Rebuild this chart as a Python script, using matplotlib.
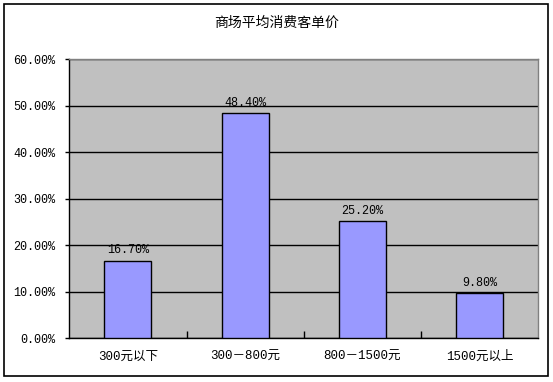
import matplotlib.pyplot as plt
from matplotlib.patches import Rectangle
from matplotlib.ticker import FixedLocator

plt.rcParams['font.family'] = ['Liberation Mono', 'Noto Sans CJK SC', 'DejaVu Sans']

# 数据
categories = ["300元以下", "300－800元", "800－1500元", "1500元以上"]
values = [16.70, 48.40, 25.20, 9.80]
y_ticks = [0, 10, 20, 30, 40, 50, 60]

fig = plt.figure(figsize=(5.53, 3.82), dpi=100)
fig.patch.set_facecolor("white")

# outer chart border
fig.patches.append(Rectangle((4 / 553, 6 / 382), 543.7 / 553, 372 / 382,
                             transform=fig.transFigure, fill=False,
                             edgecolor="black", linewidth=1.2))

ax = fig.add_axes([69.3 / 553, 43.7 / 382, 469 / 553, 279 / 382])
ax.set_facecolor("#C0C0C0")

x = range(len(categories))
bars = ax.bar(x, values, width=0.4, color="#9999FF", edgecolor="black",
              linewidth=1.0, zorder=3)

for i, v in enumerate(values):
    ax.annotate(f"{v:.2f}%", (i, v), xytext=(0, 3), textcoords="offset points",
                ha="center", va="bottom", fontsize=8.5, color="black", zorder=4)

ax.set_xlim(-0.5, len(categories) - 0.5)
ax.set_ylim(0, 60)
ax.set_yticks(y_ticks)
ax.set_yticklabels([f"{t:.2f}%" for t in y_ticks], fontsize=8.5)
ax.yaxis.grid(True, color="black", linewidth=1.0, zorder=1)
ax.tick_params(axis="y", direction="out", length=3, width=1, pad=7)

ax.set_xticks(list(x))
ax.set_xticklabels(categories, fontsize=9)
ax.tick_params(axis="x", which="major", length=0, pad=9)
ax.xaxis.set_minor_locator(FixedLocator([0.5, 1.5, 2.5]))
ax.tick_params(axis="x", which="minor", direction="in", length=5, width=1)

for side in ["left", "bottom"]:
    ax.spines[side].set_color("black")
    ax.spines[side].set_linewidth(1.0)
for side in ["top", "right"]:
    ax.spines[side].set_color("#808080")
    ax.spines[side].set_linewidth(1.0)

fig.text(276.6 / 553, 1 - 23 / 382, "商场平均消费客单价", ha="center", va="center",
         fontsize=10, family=['Noto Sans CJK SC', 'DejaVu Sans'])

fig.savefig("out.png", dpi=100)
